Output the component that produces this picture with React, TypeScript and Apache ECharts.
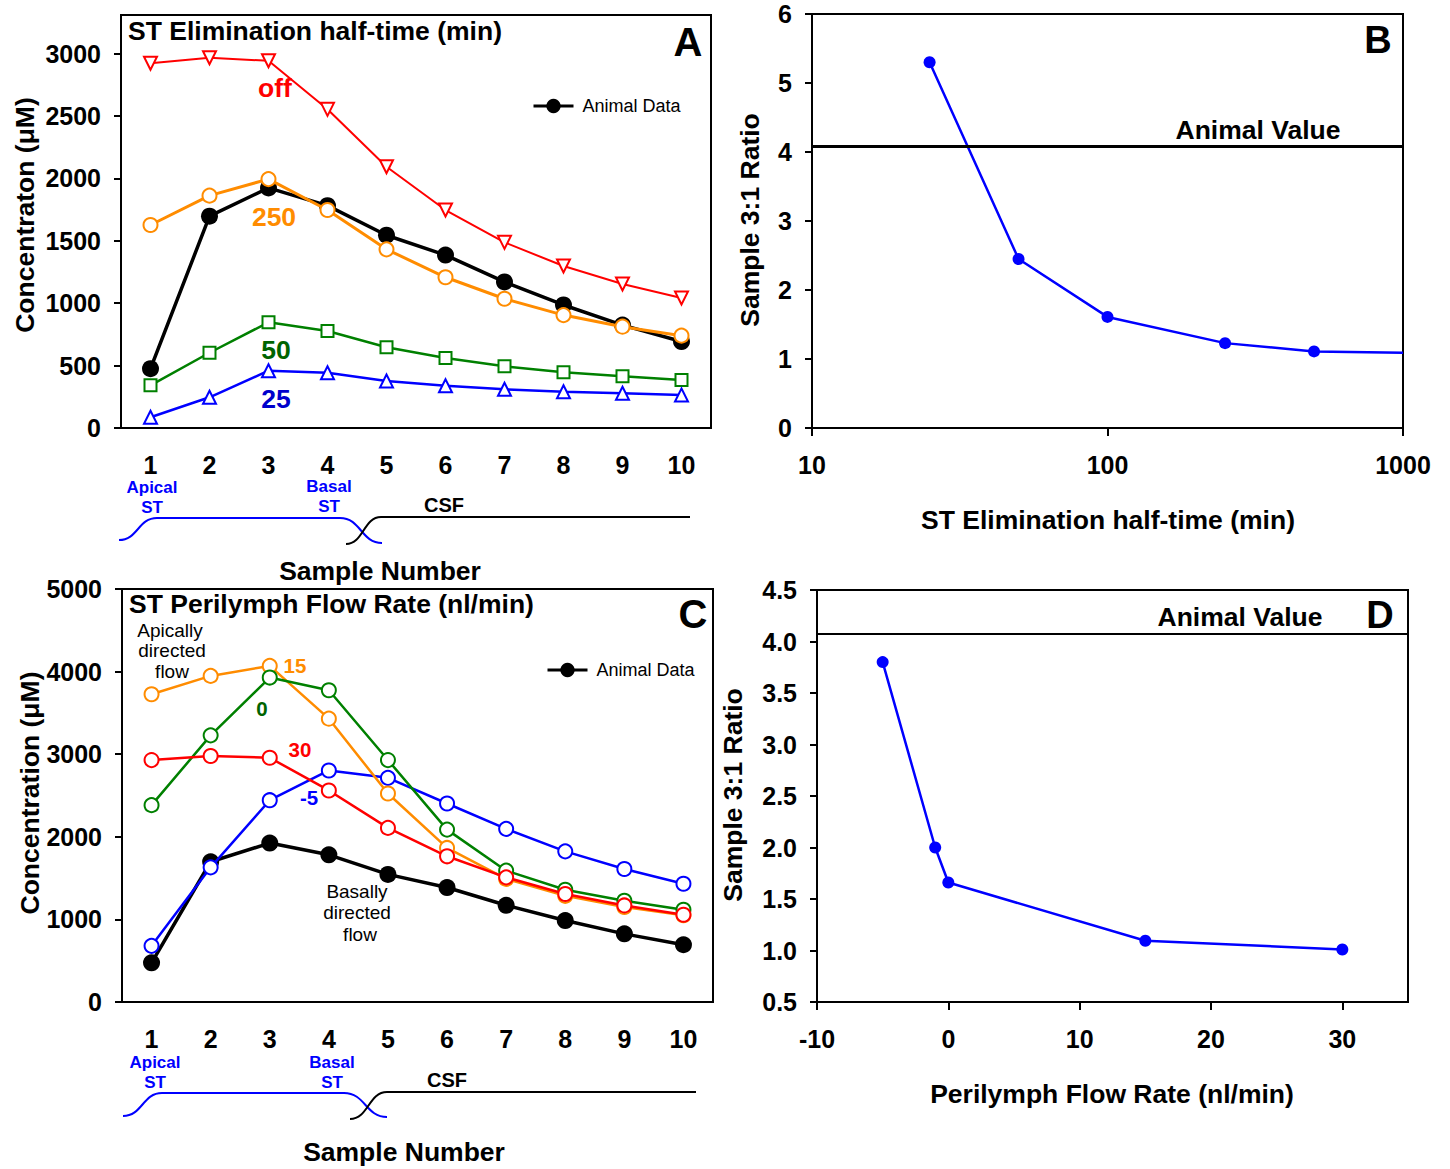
import React, { useEffect, useRef } from "react";
import * as echarts from "echarts";

// ---------- data ----------
const samples = ["1", "2", "3", "4", "5", "6", "7", "8", "9", "10"];
const animalData = [475, 1698, 1924, 1782, 1545, 1386, 1171, 986, 825, 693];

// Panel A: ST elimination half-time (min)
const halfOff = [2923, 2967, 2943, 2554, 2094, 1747, 1488, 1298, 1154, 1042];
const half250 = [1627, 1862, 1995, 1747, 1432, 1208, 1036, 905, 812, 740];
const half50 = [342, 603, 847, 777, 647, 561, 494, 446, 414, 385];
const half25 = [86, 246, 459, 443, 377, 339, 310, 291, 278, 264];

// Panel C: ST perilymph flow rate (nl/min)
const flow15 = [3726, 3948, 4069, 3430, 2524, 1865, 1490, 1285, 1150, 1050];
const flow0 = [2383, 3228, 3928, 3774, 2929, 2087, 1590, 1359, 1226, 1117];
const flow30 = [2929, 2978, 2957, 2561, 2108, 1764, 1509, 1307, 1169, 1056];
const flowM5 = [680, 1630, 2443, 2803, 2714, 2403, 2096, 1824, 1610, 1432];

// Panel B
const halfTimes = [25, 50, 100, 250, 500, 1000];
const ratiosB = [5.3, 2.45, 1.61, 1.23, 1.11, 1.09];

// Panel D
const flowRates = [-5, -1, 0, 15, 30];
const ratiosD = [3.8, 2.0, 1.66, 1.095, 1.01];

const animalValue = 4.08;

const ticksA = [0, 500, 1000, 1500, 2000, 2500, 3000];
const ticksD = [-10, 0, 10, 20, 30];

// ---------- styles ----------
const FONT = '"Liberation Sans", Arial, Helvetica, sans-serif';
const RED = "#ff0000";
const ORANGE = "#ff8c00";
const GREEN = "#008000";
const BLUE = "#0000ff";
const BIG = 26.5;

const axisLineStyle = { onZero: false, lineStyle: { color: "#000", width: 2 } };
const plain = (v: number) => String(v);
const tickLabel = (margin: number) => ({
  margin,
  fontSize: 25,
  fontWeight: "bold" as const,
  color: "#000",
  fontFamily: FONT,
  formatter: plain,
});

function txt(
  text: string,
  x: number,
  y: number,
  size: number,
  color = "#000",
  weight: string = "bold",
  align = "center",
  rotation = 0
) {
  return {
    type: "text",
    x,
    y,
    rotation,
    z: 50,
    silent: true,
    style: {
      text,
      fill: color,
      font: `${weight} ${size}px ${FONT}`,
      align,
      verticalAlign: "middle",
      textAlign: align,
      textVerticalAlign: "middle",
    },
  };
}

function curve(x1: number, y1: number, x2: number, y2: number, color: string) {
  const mx = (x1 + x2) / 2;
  return {
    type: "bezierCurve",
    silent: true,
    shape: { x1, y1, x2, y2, cpx1: mx, cpy1: y1, cpx2: mx, cpy2: y2 },
    style: { stroke: color, lineWidth: 2, fill: null },
  };
}

function hline(x1: number, x2: number, y: number, color: string) {
  return {
    type: "line",
    silent: true,
    shape: { x1, y1: y, x2, y2: y },
    style: { stroke: color, lineWidth: 2 },
  };
}

function lineSeries(
  name: string,
  data: number[],
  idx: number,
  color: string,
  symbol: string,
  size: number,
  width: number,
  rotate = 0,
  z = 2
) {
  return {
    name,
    type: "line",
    xAxisIndex: idx,
    yAxisIndex: idx,
    data,
    symbol,
    symbolSize: size,
    symbolRotate: rotate,
    showAllSymbol: true,
    z,
    lineStyle: { color, width },
    itemStyle: { color, borderWidth: 1.8 },
  };
}

const legendBase = {
  data: ["Animal Data"],
  itemWidth: 40,
  itemHeight: 18,
  selectedMode: false,
  lineStyle: { width: 3 },
  textStyle: { fontSize: 18, color: "#000", fontFamily: FONT, padding: [0, 0, 0, 4] },
};

export default function App() {
  const ref = useRef<HTMLDivElement>(null);

  useEffect(() => {
    if (!ref.current) return;
    const chart = echarts.init(ref.current, null, { renderer: "svg" });

    const gridBase = { show: true, borderColor: "#000", borderWidth: 2, containLabel: false };
    const yTick = { show: true, length: 7, lineStyle: { color: "#000", width: 2 } };
    const xTick = { length: 8, lineStyle: { color: "#000", width: 2 } };

    const option: any = {
      animation: false,
      textStyle: { fontFamily: FONT },
      grid: [
        { ...gridBase, left: 121, top: 15, width: 590, height: 413 },
        { ...gridBase, left: 812, top: 14, width: 591, height: 414 },
        { ...gridBase, left: 122, top: 589, width: 591, height: 413 },
        { ...gridBase, left: 817, top: 590, width: 591, height: 412 },
      ],
      xAxis: [
        {
          gridIndex: 0,
          type: "category",
          data: samples,
          boundaryGap: true,
          axisLine: axisLineStyle,
          axisTick: { alignWithLabel: true, ...xTick },
          axisLabel: tickLabel(24),
        },
        {
          gridIndex: 1,
          type: "log",
          logBase: 10,
          min: 10,
          max: 1000,
          axisLine: axisLineStyle,
          axisTick: xTick,
          minorTick: { show: false },
          splitLine: { show: false },
          axisLabel: tickLabel(24),
        },
        {
          gridIndex: 2,
          type: "category",
          data: samples,
          boundaryGap: true,
          axisLine: axisLineStyle,
          axisTick: { alignWithLabel: true, ...xTick },
          axisLabel: tickLabel(24),
        },
        {
          gridIndex: 3,
          type: "value",
          min: -10,
          max: 35,
          interval: 10,
          axisLine: axisLineStyle,
          axisTick: { customValues: ticksD, ...xTick },
          splitLine: { show: false },
          axisLabel: { ...tickLabel(24), customValues: ticksD },
        },
      ],
      yAxis: [
        {
          gridIndex: 0,
          type: "value",
          min: 0,
          max: 3310,
          interval: 500,
          axisLine: { show: true, ...axisLineStyle },
          axisTick: { ...yTick, customValues: ticksA },
          splitLine: { show: false },
          axisLabel: { ...tickLabel(20), customValues: ticksA },
        },
        {
          gridIndex: 1,
          type: "value",
          min: 0,
          max: 6,
          interval: 1,
          axisLine: { show: true, ...axisLineStyle },
          axisTick: yTick,
          splitLine: { show: false },
          axisLabel: tickLabel(20),
        },
        {
          gridIndex: 2,
          type: "value",
          min: 0,
          max: 5000,
          interval: 1000,
          axisLine: { show: true, ...axisLineStyle },
          axisTick: yTick,
          splitLine: { show: false },
          axisLabel: tickLabel(20),
        },
        {
          gridIndex: 3,
          type: "value",
          min: 0.5,
          max: 4.5,
          interval: 0.5,
          axisLine: { show: true, ...axisLineStyle },
          axisTick: yTick,
          splitLine: { show: false },
          axisLabel: { ...tickLabel(20), formatter: (v: number) => v.toFixed(1) },
        },
      ],
      legend: [
        { ...legendBase, left: 527, top: 92 },
        { ...legendBase, left: 541, top: 656 },
      ],
      series: [
        // Panel A
        lineSeries("off", halfOff, 0, RED, "emptyTriangle", 13, 2, 180, 2),
        lineSeries("Animal Data", animalData, 0, "#000", "circle", 17, 3.5, 0, 3),
        lineSeries("250", half250, 0, ORANGE, "emptyCircle", 14, 3, 0, 4),
        lineSeries("50", half50, 0, GREEN, "emptyRect", 12, 2.5, 0, 4),
        lineSeries("25", half25, 0, BLUE, "emptyTriangle", 13, 2.5, 0, 4),
        // Panel C
        lineSeries("Animal Data", animalData, 2, "#000", "circle", 17, 3.5, 0, 2),
        lineSeries("-5", flowM5, 2, BLUE, "emptyCircle", 14, 2.5, 0, 3),
        lineSeries("15", flow15, 2, ORANGE, "emptyCircle", 14, 2.5, 0, 4),
        lineSeries("0", flow0, 2, GREEN, "emptyCircle", 14, 2.5, 0, 5),
        lineSeries("30", flow30, 2, RED, "emptyCircle", 14, 2.5, 0, 6),
        // Panel B
        {
          name: "Ratio B",
          type: "line",
          xAxisIndex: 1,
          yAxisIndex: 1,
          data: halfTimes.map((t, i) => ({
            value: [t, ratiosB[i]],
            symbol: i === halfTimes.length - 1 ? "none" : "circle",
          })),
          symbolSize: 12,
          lineStyle: { color: BLUE, width: 2.5 },
          itemStyle: { color: BLUE },
          markLine: {
            silent: true,
            symbol: ["none", "none"],
            label: { show: false },
            lineStyle: { color: "#000", width: 3, type: "solid" },
            data: [{ yAxis: animalValue }],
          },
        },
        // Panel D
        {
          name: "Ratio D",
          type: "line",
          xAxisIndex: 3,
          yAxisIndex: 3,
          data: flowRates.map((f, i) => [f, ratiosD[i]]),
          symbol: "circle",
          symbolSize: 12,
          lineStyle: { color: BLUE, width: 2.5 },
          itemStyle: { color: BLUE },
          markLine: {
            silent: true,
            symbol: ["none", "none"],
            label: { show: false },
            lineStyle: { color: "#000", width: 2, type: "solid" },
            data: [{ yAxis: animalValue }],
          },
        },
      ],
      graphic: [
        // Panel A texts
        txt("ST Elimination half-time (min)", 128, 31, BIG, "#000", "bold", "left"),
        txt("A", 688, 42, 40),
        txt("off", 275, 88, BIG, RED),
        txt("250", 274, 217, BIG, ORANGE),
        txt("50", 276, 350, BIG, "#006400"),
        txt("25", 276, 399, BIG, "#0000cc"),
        txt("Concentraton (\u03bcM)", 25, 215, BIG, "#000", "bold", "center", Math.PI / 2),
        txt("Apical", 152, 487, 17, BLUE),
        txt("ST", 152, 507, 17, BLUE),
        txt("Basal", 329, 486, 17, BLUE),
        txt("ST", 329, 506, 17, BLUE),
        txt("CSF", 444, 505, 20),
        txt("Sample Number", 380, 571, BIG),
        curve(119, 540, 157, 518, BLUE),
        hline(157, 340, 518, BLUE),
        curve(340, 518, 382, 543, BLUE),
        curve(346, 544, 381, 517, "#000"),
        hline(381, 690, 517, "#000"),
        // Panel C texts
        txt("ST Perilymph Flow Rate (nl/min)", 129, 604, BIG, "#000", "bold", "left"),
        txt("C", 693, 614, 40),
        txt("15", 295, 665, 20.5, ORANGE),
        txt("0", 262, 708, 20.5, "#006400"),
        txt("30", 300, 749, 20.5, RED),
        txt("-5", 309, 797, 20.5, BLUE),
        txt("Apically", 170, 630, 19, "#000", "normal"),
        txt("directed", 172, 650, 19, "#000", "normal"),
        txt("flow", 172, 671, 19, "#000", "normal"),
        txt("Basally", 357, 891, 19, "#000", "normal"),
        txt("directed", 357, 912, 19, "#000", "normal"),
        txt("flow", 360, 934, 19, "#000", "normal"),
        txt("Concentration (\u03bcM)", 30, 793, BIG, "#000", "bold", "center", Math.PI / 2),
        txt("Apical", 155, 1062, 17, BLUE),
        txt("ST", 155, 1082, 17, BLUE),
        txt("Basal", 332, 1062, 17, BLUE),
        txt("ST", 332, 1082, 17, BLUE),
        txt("CSF", 447, 1080, 20),
        txt("Sample Number", 404, 1152, BIG),
        curve(123, 1116, 162, 1093, BLUE),
        hline(162, 344, 1093, BLUE),
        curve(344, 1093, 387, 1117, BLUE),
        curve(350, 1119, 387, 1092, "#000"),
        hline(387, 696, 1092, "#000"),
        // Panel B texts
        txt("B", 1378, 40, 38),
        txt("Animal Value", 1258, 130, BIG),
        txt("Sample 3:1 Ratio", 750, 220, BIG, "#000", "bold", "center", Math.PI / 2),
        txt("ST Elimination half-time (min)", 1108, 520, BIG),
        // Panel D texts
        txt("D", 1380, 615, 38),
        txt("Animal Value", 1240, 617, BIG),
        txt("Sample 3:1 Ratio", 733, 795, BIG, "#000", "bold", "center", Math.PI / 2),
        txt("Perilymph Flow Rate (nl/min)", 1112, 1094, BIG),
      ],
    };

    chart.setOption(option);
    return () => chart.dispose();
  }, []);

  return (
    <div
      ref={ref}
      style={{ position: "absolute", left: 0, top: 0, width: 1450, height: 1169, background: "#fff" }}
    />
  );
}
